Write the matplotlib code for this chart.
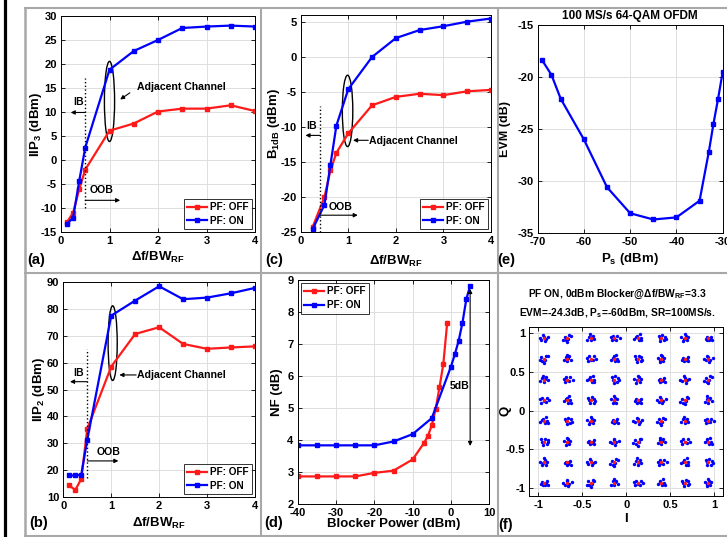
import matplotlib
matplotlib.use("Agg")
import matplotlib.pyplot as plt
from matplotlib.patches import Ellipse
from matplotlib.lines import Line2D
from matplotlib import font_manager


def pick_font(candidates):
    for name in candidates:
        try:
            font_manager.findfont(font_manager.FontProperties(family=name),
                                  fallback_to_default=False)
            return name
        except Exception:
            pass
    return "DejaVu Sans"


FONT = pick_font(["Liberation Sans Narrow", "Liberation Sans", "Arial"])
plt.rcParams.update({
    "font.family": [FONT, "DejaVu Sans"],
    "font.weight": "bold",
    "axes.labelweight": "bold",
    "axes.titleweight": "bold",
    "axes.unicode_minus": False,
    "mathtext.fontset": "custom",
    "mathtext.rm": FONT + ":bold",
    "mathtext.bf": FONT + ":bold",
    "mathtext.it": FONT + ":bold",
    "mathtext.sf": FONT + ":bold",
    "mathtext.default": "bf",
})

# ---------------- data ----------------
# (a) IIP3 versus blocker offset
df_a = [0.125, 0.25, 0.375, 0.5, 1, 1.5, 2, 2.5, 3, 3.5, 4]
iip3_off = [-12.9, -11.0, -6.1, -2.0, 6.1, 7.6, 10.1, 10.7, 10.7, 11.4, 10.2]
iip3_on = [-13.3, -12.0, -4.4, 2.6, 18.8, 22.7, 25.0, 27.5, 27.8, 28.0, 27.8]

# (c) B1dB versus blocker offset
df_c = [0.25, 0.5, 0.625, 0.75, 1, 1.5, 2, 2.5, 3, 3.5, 4]
b1db_off = [-24.3, -20.0, -16.2, -13.7, -10.9, -6.9, -5.7, -5.25, -5.45, -4.9, -4.7]
b1db_on = [-24.6, -21.1, -15.4, -9.8, -4.6, 0.0, 2.7, 3.85, 4.4, 5.05, 5.5]

# (e) EVM versus signal power
ps = [-69, -67, -65, -60, -55, -50, -45, -40, -35, -33, -32, -31, -30]
evm = [-18.4, -19.8, -22.1, -26.0, -30.6, -33.1, -33.7, -33.5, -31.9, -27.2,
       -24.5, -22.1, -19.5]

# (b) IIP2 versus blocker offset
df_b = [0.125, 0.25, 0.375, 0.5, 1, 1.5, 2, 2.5, 3, 3.5, 4]
iip2_off = [14.4, 12.7, 16.8, 35.4, 58.5, 70.6, 73.1, 66.9, 65.1, 65.6, 66.0]
iip2_on = [18.1, 18.1, 18.4, 31.3, 77.4, 83.0, 88.3, 83.5, 84.1, 85.7, 87.7]

# (d) noise figure versus blocker power
pblk_off = [-40, -35, -30, -25, -20, -15, -10, -7, -6, -5, -4, -3, -2, -1]
nf_off = [2.87, 2.87, 2.87, 2.87, 2.98, 3.05, 3.40, 3.92, 4.14, 4.47, 4.97,
          5.65, 6.38, 7.65]
pblk_on = [-40, -35, -30, -25, -20, -15, -10, -5, 0, 1, 2, 3, 4, 5]
nf_on = [3.84, 3.84, 3.84, 3.84, 3.84, 3.96, 4.19, 4.69, 6.30, 6.68, 7.10,
         7.67, 8.40, 8.82]

# (f) 64-QAM constellation: ideal levels and received-symbol offsets (x0.01)
qam_levels = [-0.933, -0.667, -0.4, -0.133, 0.133, 0.4, 0.667, 0.933]
spread_patterns = [
    [(-2, 1), (1, -2), (3, 2), (-1, -3), (2, 0), (-3, -1), (4, -3)],
    [(2, 3), (-2, 2), (0, -3), (4, -1), (-4, -2), (1, 1), (-1, 5)],
    [(-3, 3), (3, -3), (1, 4), (-1, -4), (4, 2), (-2, 0), (5, -1)],
    [(0, 2), (2, -1), (-3, -2), (5, 1), (-1, 4), (1, -4), (-5, 0)],
    [(3, 3), (-3, -3), (-2, 3), (2, -2), (0, -1), (6, 0), (-4, 1)],
    [(-4, 1), (1, 3), (2, -3), (-1, -1), (3, 1), (-2, -4), (0, 5)],
    [(1, -1), (-3, 2), (4, 3), (-2, -3), (2, 4), (0, -5), (-5, -2)],
    [(-1, 3), (3, 0), (-4, -1), (1, -3), (4, -3), (-2, 1), (2, 5)],
]

RED = "#ff1a1a"
BLUE = "#0000ff"

# ---------------- figure ----------------
W, H = 727, 537
fig = plt.figure(figsize=(W / 100, H / 100), dpi=100)


def add_ax(left, right, top, bottom):
    return fig.add_axes([left / W, 1 - bottom / H, (right - left) / W,
                         (bottom - top) / H])


def style(ax):
    ax.grid(True, color="#dedede", lw=0.7)
    ax.set_axisbelow(True)
    ax.tick_params(direction="in", length=3, width=0.6, top=True, right=True,
                   labelsize=8.0, pad=3)
    for s in ax.spines.values():
        s.set_linewidth(0.7)


def curve(ax, x, y, color, label):
    ax.plot(x, y, "-s", color=color, lw=1.6, ms=3.2, mfc=color, mec=color,
            label=label)


def legend(ax, loc):
    leg = ax.legend(loc=loc, fontsize=7.2, frameon=True, fancybox=False,
                    edgecolor="black", handlelength=2.0, handletextpad=0.3,
                    borderpad=0.35, labelspacing=0.35, borderaxespad=0.3)
    leg.get_frame().set_linewidth(0.7)
    for t in leg.get_texts():
        t.set_fontweight("bold")


def arrow(ax, tail, tip, lw=0.8):
    ax.annotate("", xy=tip, xytext=tail,
                arrowprops=dict(arrowstyle="-|>", color="black", lw=lw,
                                mutation_scale=6, shrinkA=0, shrinkB=0))


ann_fs = 7.6
lab_fs = 9.5

# ---- (a) IIP3 ----
ax = add_ax(61, 255, 16, 232)
style(ax)
curve(ax, df_a, iip3_off, RED, "PF: OFF")
curve(ax, df_a, iip3_on, BLUE, "PF: ON")
ax.set_xlim(0, 4)
ax.set_ylim(-15, 30)
ax.set_xticks([0, 1, 2, 3, 4])
ax.set_yticks(range(-15, 31, 5))
ax.plot([0.5, 0.5], [-10, 17], ":", color="black", lw=1.0)
ax.text(0.36, 11.0, "IB", fontsize=ann_fs, ha="center", va="bottom")
arrow(ax, (0.5, 9.9), (0.2, 9.9))
ax.text(0.6, -7.3, "OOB", fontsize=ann_fs, ha="left", va="bottom")
arrow(ax, (0.5, -8.4), (1.22, -8.4))
ax.add_patch(Ellipse((1.0, 12.2), 0.21, 16.7, fill=False, ec="black", lw=1.0))
ax.text(1.56, 15.2, "Adjacent Channel", fontsize=ann_fs, ha="left", va="center")
arrow(ax, (1.42, 14.0), (1.22, 12.6))
ax.set_ylabel("IIP$_3$ (dBm)", fontsize=lab_fs)
ax.yaxis.set_label_coords(-0.088, 0.5)
ax.set_xlabel("\u0394f/BW$_{RF}$", fontsize=lab_fs)
ax.xaxis.set_label_coords(0.5, -0.085)
legend(ax, "lower right")

# ---- (c) B1dB ----
ax = add_ax(300.7, 491, 15, 232)
style(ax)
curve(ax, df_c, b1db_off, RED, "PF: OFF")
curve(ax, df_c, b1db_on, BLUE, "PF: ON")
ax.set_xlim(0, 4)
ax.set_ylim(-25, 6)
ax.set_xticks([0, 1, 2, 3, 4])
ax.set_yticks(range(-25, 6, 5))
ax.plot([0.41, 0.41], [-25, -7], ":", color="black", lw=1.0)
ax.text(0.23, -10.6, "IB", fontsize=ann_fs, ha="center", va="bottom")
arrow(ax, (0.41, -11.2), (0.1, -11.2))
ax.text(0.58, -22.1, "OOB", fontsize=ann_fs, ha="left", va="bottom")
arrow(ax, (0.41, -22.6), (1.2, -22.6))
ax.add_patch(Ellipse((0.985, -7.7), 0.22, 10.2, fill=False, ec="black", lw=1.0))
ax.text(1.44, -12.0, "Adjacent Channel", fontsize=ann_fs, ha="left", va="center")
arrow(ax, (1.42, -11.9), (1.1, -11.9))
ax.set_ylabel("B$_{1dB}$ (dBm)", fontsize=lab_fs)
ax.yaxis.set_label_coords(-0.1, 0.5)
ax.set_xlabel("\u0394f/BW$_{RF}$", fontsize=lab_fs)
ax.xaxis.set_label_coords(0.5, -0.1)
legend(ax, "lower right")

# ---- (e) EVM ----
ax = add_ax(537.6, 722.7, 25, 233)
style(ax)
ax.plot(ps, evm, "-s", color=BLUE, lw=1.6, ms=3.2)
ax.set_xlim(-70, -30)
ax.set_ylim(-35, -15)
ax.set_xticks(range(-70, -29, 10))
ax.set_yticks(range(-35, -14, 5))
ax.text(0.5, 1.045, "100 MS/s 64-QAM OFDM", transform=ax.transAxes,
        fontsize=8.5, ha="center", va="center")
ax.set_ylabel("EVM (dB)", fontsize=lab_fs - 0.5)
ax.yaxis.set_label_coords(-0.145, 0.5)
ax.set_xlabel("P$_s$ (dBm)", fontsize=lab_fs)
ax.xaxis.set_label_coords(0.5, -0.085)

# ---- (b) IIP2 ----
ax = add_ax(63.3, 255, 281.7, 497.3)
style(ax)
curve(ax, df_b, iip2_off, RED, "PF: OFF")
curve(ax, df_b, iip2_on, BLUE, "PF: ON")
ax.set_xlim(0, 4)
ax.set_ylim(10, 90)
ax.set_xticks([0, 1, 2, 3, 4])
ax.set_yticks(range(10, 91, 10))
ax.plot([0.5, 0.5], [17, 65], ":", color="black", lw=1.0)
ax.text(0.31, 54.3, "IB", fontsize=ann_fs, ha="center", va="bottom")
arrow(ax, (0.5, 52.9), (0.14, 52.9))
ax.text(0.7, 25.0, "OOB", fontsize=ann_fs, ha="left", va="bottom")
arrow(ax, (0.5, 23.5), (1.15, 23.5))
ax.add_patch(Ellipse((1.03, 67.2), 0.19, 27.7, fill=False, ec="black", lw=1.0))
ax.text(1.53, 55.4, "Adjacent Channel", fontsize=ann_fs, ha="left", va="center")
arrow(ax, (1.52, 55.4), (1.17, 55.4))
ax.set_ylabel("IIP$_2$ (dBm)", fontsize=lab_fs)
ax.yaxis.set_label_coords(-0.085, 0.5)
ax.set_xlabel("\u0394f/BW$_{RF}$", fontsize=lab_fs)
ax.xaxis.set_label_coords(0.5, -0.085)
legend(ax, "lower right")

# ---- (d) NF ----
ax = add_ax(297.7, 489.3, 280, 504.3)
style(ax)
curve(ax, pblk_off, nf_off, RED, "PF: OFF")
curve(ax, pblk_on, nf_on, BLUE, "PF: ON")
ax.set_xlim(-40, 10)
ax.set_ylim(2, 9)
ax.set_xticks(range(-40, 11, 10))
ax.set_yticks(range(2, 10))
ax.annotate("", xy=(5, 8.72), xytext=(5, 3.82),
            arrowprops=dict(arrowstyle="<|-|>", color="black", lw=0.8,
                            mutation_scale=6, shrinkA=0, shrinkB=0))
ax.text(2.2, 5.7, "5dB", fontsize=ann_fs, ha="center", va="center")
ax.set_ylabel("NF (dB)", fontsize=lab_fs)
ax.yaxis.set_label_coords(-0.075, 0.5)
ax.set_xlabel("Blocker Power (dBm)", fontsize=lab_fs)
ax.xaxis.set_label_coords(0.5, -0.062)
legend(ax, "upper left")

# ---- (f) constellation ----
ax = add_ax(529.3, 723, 326.7, 496)
style(ax)
bx, by, rx, ry = [], [], [], []
for i, qi in enumerate(qam_levels):
    for j, qq in enumerate(qam_levels):
        rx.append(qi)
        ry.append(qq)
        for dx, dy in spread_patterns[(3 * i + 5 * j) % len(spread_patterns)]:
            bx.append(qi + dx / 100)
            by.append(qq + dy / 100)
ax.scatter(bx, by, s=6, color=BLUE, linewidths=0, zorder=3)
ax.scatter(rx, ry, s=6, color=RED, linewidths=0, zorder=4)
ax.set_xlim(-1.1, 1.1)
ax.set_ylim(-1.1, 1.08)
ax.set_xticks([-1, -0.5, 0, 0.5, 1])
ax.set_xticklabels(["-1", "-0.5", "0", "0.5", "1"])
ax.set_yticks([-1, -0.5, 0, 0.5, 1])
ax.set_yticklabels(["-1", "-0.5", "0", "0.5", "1"])
ax.set_ylabel("Q", fontsize=lab_fs)
ax.yaxis.set_label_coords(-0.094, 0.5)
ax.set_xlabel("I", fontsize=lab_fs)
ax.xaxis.set_label_coords(0.5, -0.1)
fig.text(617 / W, 1 - 294 / H, "PF ON, 0dBm Blocker@\u0394f/BW$_{RF}$=3.3",
         fontsize=7.4, ha="center", va="center")
fig.text(617 / W, 1 - 313 / H, "EVM=-24.3dB, P$_s$=-60dBm, SR=100MS/s.",
         fontsize=7.4, ha="center", va="center")

# ---- panel letters ----
for lbl, x, y in [("(a)", 27, 260), ("(c)", 265, 260), ("(e)", 497, 260),
                  ("(b)", 29, 523), ("(d)", 264, 523), ("(f)", 498, 525)]:
    fig.text(x / W, 1 - y / H, lbl, fontsize=10.5, ha="left", va="center")

# ---- panel frame ----
gray = "#a8a8a8"


def fline(xs, ys, color, lw):
    fig.add_artist(Line2D([x / W for x in xs], [1 - y / H for y in ys],
                          color=color, lw=lw, transform=fig.transFigure))


fline([25, W], [8, 8], gray, 1.5)
fline([25, W], [536, 536], gray, 1.5)
fline([25, 25], [8, H], gray, 1.8)
fline([261, 261], [8, 536], gray, 1.5)
fline([498, 498], [8, 536], gray, 1.5)
fline([25, W], [273, 273], gray, 1.5)
fline([5, 5], [0, H], "black", 2.3)

fig.savefig("out.png", dpi=100)
